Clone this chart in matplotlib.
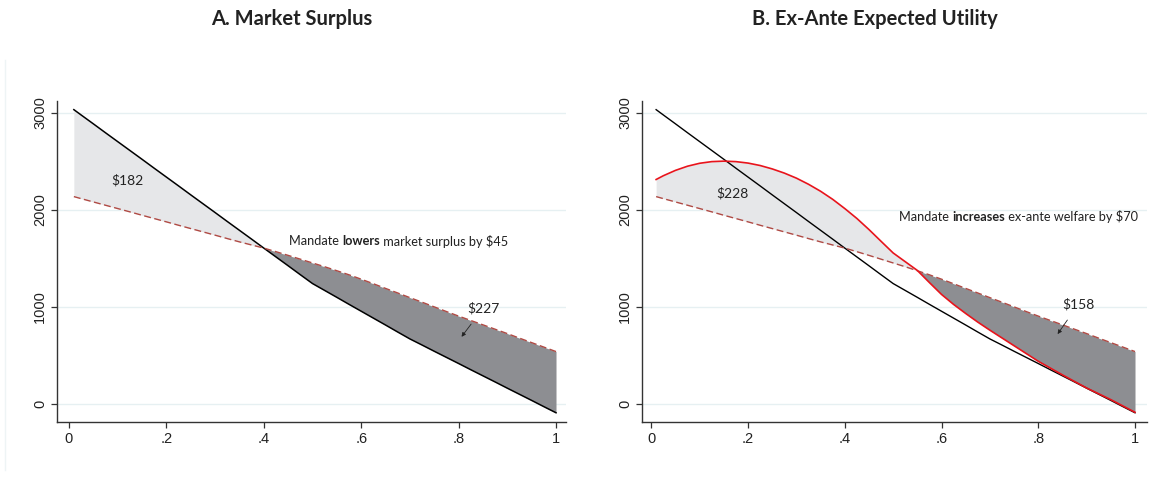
import numpy as np
import matplotlib
matplotlib.use("Agg")
import matplotlib.pyplot as plt

# ---- data ----
x = [0.01, 0.025, 0.05, 0.075, 0.10, 0.125, 0.15, 0.175, 0.20, 0.225, 0.25,
     0.275, 0.30, 0.325, 0.35, 0.375, 0.40, 0.425, 0.45, 0.475, 0.50,
     0.525, 0.55, 0.575, 0.60, 0.625, 0.65, 0.675, 0.70, 0.725, 0.75,
     0.775, 0.80, 0.825, 0.85, 0.875, 0.90, 0.925, 0.95, 0.975, 1.00]
market_cost = [3030, 2975, 2884, 2792, 2701, 2610, 2519, 2427, 2336, 2245, 2153,
               2062, 1971, 1879, 1788, 1697, 1605, 1514, 1423, 1331, 1240,
               1169, 1098, 1026, 955, 884, 813, 741, 670, 607, 543,
               480, 417, 353, 290, 227, 163, 100, 37, -27, -90]
mandate_value = [2135, 2114, 2080, 2046, 2012, 1978, 1943, 1909, 1875, 1840, 1806,
                 1772, 1738, 1703, 1669, 1637, 1605, 1568, 1530, 1491, 1452,
                 1413, 1372, 1330, 1285, 1238, 1190, 1143, 1095, 1048, 1000,
                 952, 905, 860, 815, 770, 725, 678, 632, 586, 540]
exante_utility = [2311, 2350, 2405, 2448, 2478, 2495, 2500, 2495, 2480, 2455, 2420,
                  2377, 2325, 2262, 2190, 2107, 2012, 1910, 1796, 1675, 1555,
                  1465, 1375, 1250, 1128, 1025, 932, 843, 760, 680, 600,
                  520, 440, 370, 300, 232, 165, 105, 45, -20, -85]

panel_titles = ["A. Market Surplus", "B. Ex-Ante Expected Utility"]
xticks = [0, 0.2, 0.4, 0.6, 0.8, 1.0]
xticklabels = ["0", ".2", ".4", ".6", ".8", "1"]
yticks = [0, 1000, 2000, 3000]
gain_labels = ["$182", "$228"]
loss_labels = ["$227", "$158"]
msg_pre = ["Mandate ", "Mandate "]
msg_bold = ["lowers", "increases"]
msg_post = [" market surplus by $45", " ex-ante welfare by $70"]

# ---- style ----
LIGHT = "#e6e7e9"
DARK = "#8d8e92"
DASH = "#b04a44"
RED = "#e8141c"
GRID = "#e6f0f2"
TXT_FONT = ["Lato", "DejaVu Sans"]
TICK_FONT = ["Liberation Sans", "DejaVu Sans"]

fig = plt.figure(figsize=(11.57, 4.78), dpi=100)
W, H = 1157, 478

def px_axes(l, r, t, b):
    return fig.add_axes([l / W, 1 - b / H, (r - l) / W, (b - t) / H])

axA = px_axes(57, 566, 101, 422)
axB = px_axes(642, 1147, 101, 422)

xa = np.array(x)
mc = np.array(market_cost)
mv = np.array(mandate_value)
eu = np.array(exante_utility)

for ax in (axA, axB):
    ax.set_xlim(-0.0246, 1.0205)
    ax.set_ylim(-185, 3119)
    for s in ("top", "right"):
        ax.spines[s].set_visible(False)
    for s in ("left", "bottom"):
        ax.spines[s].set_linewidth(1.0)
        ax.spines[s].set_color("#333333")
    ax.set_xticks(xticks)
    ax.set_xticklabels(xticklabels)
    ax.set_yticks(yticks)
    ax.set_yticklabels([str(v) for v in yticks], rotation=90, va="center")
    ax.tick_params(axis="both", direction="out", length=4, width=0.9,
                   color="#333333", labelsize=10.5, pad=3)
    for lab in ax.get_xticklabels() + ax.get_yticklabels():
        lab.set_family(TICK_FONT)
        lab.set_color("#222222")
    for v in yticks:
        ax.axhline(v, color=GRID, lw=1.0, zorder=0)

axB.set_xlim(-0.0192, 1.0248)

# Panel A
axA.fill_between(xa, mc, mv, where=mc >= mv, interpolate=True,
                 color=LIGHT, lw=0, zorder=1)
axA.fill_between(xa, mc, mv, where=mc <= mv, interpolate=True,
                 color=DARK, lw=0, zorder=1)
axA.plot(xa, mc, color="black", lw=1.1, zorder=3)
axA.plot(xa, mv, color=DASH, lw=1.0, ls=(0, (5, 2.5)), zorder=3)

# Panel B
axB.fill_between(xa, eu, mv, where=eu >= mv, interpolate=True,
                 color=LIGHT, lw=0, zorder=1)
axB.fill_between(xa, eu, mv, where=eu <= mv, interpolate=True,
                 color=DARK, lw=0, zorder=1)
axB.plot(xa, mc, color="black", lw=1.0, zorder=3)
axB.plot(xa, eu, color=RED, lw=1.2, zorder=4)
axB.plot(xa, mv, color=DASH, lw=1.0, ls=(0, (5, 2.5)), zorder=3)

# annotations
gain_pos = [(0.12, 2300), (0.168, 2166)]
loss_pos = [(0.85, 984), (0.883, 1028)]
arrow_to = [(0.806, 692), (0.84, 720)]
msg_pos = [(0.452, 1673), (0.512, 1927)]
for i, ax in enumerate((axA, axB)):
    ax.text(*gain_pos[i], gain_labels[i], family=TXT_FONT, fontsize=10,
            ha="center", va="center", color="#222222", zorder=5)
    ax.annotate(loss_labels[i], xy=arrow_to[i], xytext=loss_pos[i],
                family=TXT_FONT, fontsize=10, ha="center", va="center",
                color="#222222", zorder=5,
                arrowprops=dict(arrowstyle="-|>", lw=0.6, color="#222222",
                                mutation_scale=6, shrinkA=6, shrinkB=0))
    t1 = ax.text(*msg_pos[i], msg_pre[i], family=TXT_FONT, fontsize=9.2,
                 ha="left", va="center", color="#222222", zorder=5)
    t2 = ax.annotate(msg_bold[i], xy=(1, 0.5), xycoords=t1, family=TXT_FONT,
                     fontsize=9.2, fontweight="bold", ha="left", va="center",
                     color="#222222", zorder=5, annotation_clip=False)
    ax.annotate(msg_post[i], xy=(1, 0.5), xycoords=t2, family=TXT_FONT,
                fontsize=9.2, ha="left", va="center", color="#222222",
                zorder=5, annotation_clip=False)

# titles
fig.text(292 / W, 1 - 19 / H, panel_titles[0], family=TXT_FONT, fontsize=14.5,
         fontweight="bold", ha="center", va="center", color="#222222")
fig.text(875 / W, 1 - 19 / H, panel_titles[1], family=TXT_FONT, fontsize=14.5,
         fontweight="bold", ha="center", va="center", color="#222222")

# faint panel frame line
fig.add_artist(plt.Line2D([5 / W, 5 / W], [1 - 470 / H, 1 - 60 / H],
                          color="#eef4f5", lw=1.0))

fig.savefig("out.png", dpi=100)
